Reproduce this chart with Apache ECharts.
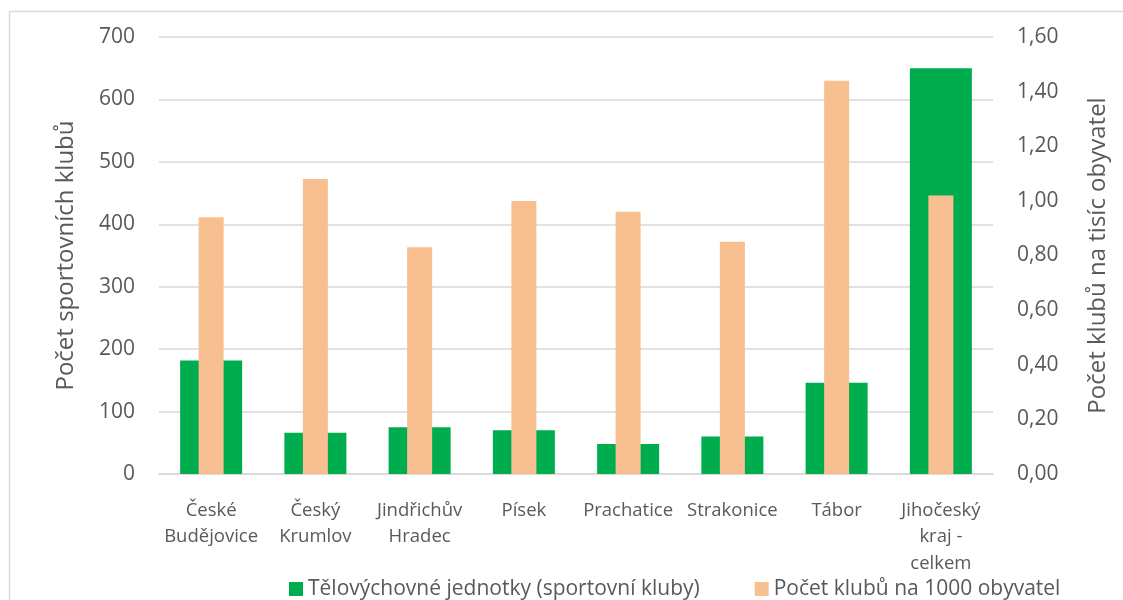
<!DOCTYPE html>
<html><head><meta charset="utf-8">
<script src="https://cdn.jsdelivr.net/npm/echarts@6/dist/echarts.min.js"></script>
<style>html,body{margin:0;padding:0;background:#fff}#c{width:1123px;height:600px}</style>
</head><body><div id="c"></div>
<script>
const categories = ['České\nBudějovice','Český\nKrumlov','Jindřichův\nHradec','Písek','Prachatice','Strakonice','Tábor','Jihočeský\nkraj -\ncelkem'];
const clubs = [182, 66, 75, 70, 48, 60, 146, 650];
const perThousand = [0.94, 1.08, 0.83, 1.00, 0.96, 0.85, 1.44, 1.02];
const leftTicks = [0, 700, 100];
const rightTicks = [0, 1.6, 0.2];
const seriesNames = ['Tělovýchovné jednotky (sportovní kluby)', 'Počet klubů na 1000 obyvatel'];
const axisNames = ['Počet sportovních klubů', 'Počet klubů na tisíc obyvatel'];

const FONT = '"Open Sans", sans-serif';
const GREY = '#595959';
const chart = echarts.init(document.getElementById('c'));
chart.setOption({
  animation: false,
  textStyle: {fontFamily: FONT},
  graphic: [{type: 'rect', shape: {x: 9.5, y: 11.5, width: 1300, height: 800}, style: {fill: 'none', stroke: '#d9d9d9', lineWidth: 1.5}, z: -1}],
  grid: {left: 159, right: 130, top: 37, bottom: 126},
  legend: {
    top: 577, left: 289, padding: 0, itemWidth: 14, itemHeight: 14, itemGap: 55,
    textStyle: {fontSize: 21, color: GREY, fontFamily: FONT, lineHeight: 24},
    data: [{name: seriesNames[0], icon: 'rect'}, {name: seriesNames[1], icon: 'rect'}]
  },
  xAxis: [
    {type: 'category', data: categories, axisTick: {show: false},
     axisLine: {lineStyle: {color: '#d9d9d9', width: 1.5}},
     axisLabel: {color: GREY, fontSize: 18.5, lineHeight: 26.5, margin: 23, interval: 0, fontFamily: FONT}},
    {type: 'category', data: categories, show: false}
  ],
  yAxis: [
    {type: 'value', min: leftTicks[0], max: leftTicks[1], interval: leftTicks[2],
     name: axisNames[0], nameLocation: 'middle', nameGap: 81, nameRotate: 90,
     nameTextStyle: {fontSize: 24, color: GREY, fontFamily: FONT},
     axisLabel: {color: GREY, fontSize: 21, margin: 24, fontFamily: FONT},
     splitLine: {lineStyle: {color: '#d9d9d9', width: 1.5}}, axisLine: {show: false}, axisTick: {show: false}},
    {type: 'value', min: rightTicks[0], max: rightTicks[1], interval: rightTicks[2], position: 'right',
     name: axisNames[1], nameLocation: 'middle', nameGap: 93, nameRotate: 90,
     nameTextStyle: {fontSize: 24, color: GREY, fontFamily: FONT},
     axisLabel: {color: GREY, fontSize: 21, margin: 24, fontFamily: FONT, formatter: v => v.toFixed(2).replace('.', ',')},
     splitLine: {show: false}, axisLine: {show: false}, axisTick: {show: false}}
  ],
  series: [
    {name: seriesNames[0], type: 'bar', data: clubs, xAxisIndex: 0, yAxisIndex: 0, barWidth: 62, itemStyle: {color: '#00ad4e'}, z: 2},
    {name: seriesNames[1], type: 'bar', data: perThousand, xAxisIndex: 1, yAxisIndex: 1, barWidth: 25, itemStyle: {color: '#f8c090'}, z: 3}
  ]
});
</script></body></html>
